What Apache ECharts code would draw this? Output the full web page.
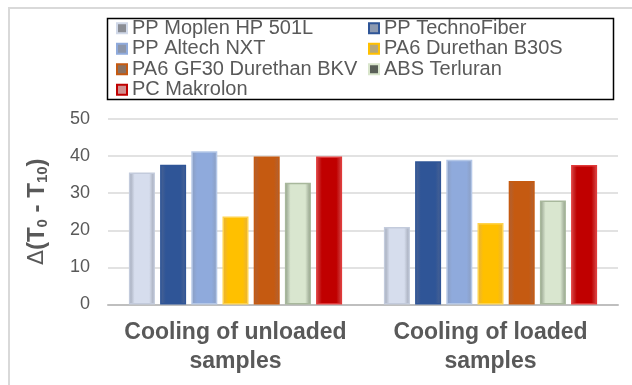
<!DOCTYPE html>
<html><head><meta charset="utf-8">
<script src="https://cdn.jsdelivr.net/npm/echarts@6/dist/echarts.min.js"></script>
<style>html,body{margin:0;padding:0;background:#fff}#c{width:632px;height:385px}</style>
</head><body><div id="c"></div>
<script>
const categories = ['Cooling of unloaded\nsamples', 'Cooling of loaded\nsamples'];
const seriesNames = ['PP Moplen HP 501L', 'PP TechnoFiber', 'PP Altech NXT', 'PA6 Durethan B30S', 'PA6 GF30 Durethan BKV', 'ABS Terluran', 'PC Makrolon'];
const moplen = [35.6, 20.9];
const technoFiber = [37.7, 38.6];
const altech = [41.3, 39.0];
const durethanB30S = [23.7, 22.0];
const durethanBKV = [39.9, 33.3];
const absTerluran = [32.8, 28.0];
const pcMakrolon = [39.9, 37.6];
const yTicks = [0, 10, 20, 30, 40, 50];

const values = [moplen, technoFiber, altech, durethanB30S, durethanBKV, absTerluran, pcMakrolon];
// [center, edge, border, legendFill, legendBorder]
const styles = [
  ['#d6dded', '#9aa1b0', '#c3cbdc', '#8a8d94', '#d0d8e8'],
  ['#2f5597', '#4b6392', '#2f5597', '#8c99b0', '#2f5597'],
  ['#8faadc', '#8b9dbf', '#b4c7e7', '#8c96aa', '#8faadc'],
  ['#ffc000', '#e6b143', '#ffd34d', '#b8a878', '#ffc000'],
  ['#c55a11', '#ad6239', '#c55a11', '#8a7060', '#c55a11'],
  ['#d9e6cf', '#8d9a85', '#a8b89c', '#5a6058', '#d9e5cc'],
  ['#c00000', '#d14a4a', '#e03a3a', '#d09090', '#c00000']
];
function grad(c, e) {
  return new echarts.graphic.LinearGradient(0, 0, 1, 0, [
    {offset: 0, color: e}, {offset: 0.22, color: c}, {offset: 0.78, color: c}, {offset: 1, color: e}
  ]);
}
const series = seriesNames.map((n, i) => ({
  name: n, type: 'bar', data: values[i], barWidth: 26, barGap: '20%',
  itemStyle: {color: grad(styles[i][0], styles[i][1]), borderColor: styles[i][2], borderWidth: 1.5}
}));
const legendItem = i => ({name: seriesNames[i], itemStyle: {color: styles[i][3], borderColor: styles[i][4], borderWidth: 2}});
const legendText = {fontFamily: 'Liberation Sans, Arial', fontSize: 20, color: '#595959', lineHeight: 20.5};

const chart = echarts.init(document.getElementById('c'), null, {renderer: 'canvas'});
chart.setOption({
  animation: false,
  backgroundColor: '#fff',
  graphic: [
    {type: 'rect', shape: {x: 9, y: 8, width: 640, height: 400}, style: {fill: 'none', stroke: '#d9d9d9', lineWidth: 2}, z: -1},
    {type: 'rect', shape: {x: 107.5, y: 18.5, width: 506, height: 81}, style: {fill: 'none', stroke: '#000', lineWidth: 1.5}}
  ],
  legend: [
    {orient: 'vertical', left: 116, top: 18, padding: 0, itemGap: 0, itemWidth: 10, itemHeight: 10, icon: 'rect',
     data: [0, 2, 4, 6].map(legendItem), textStyle: legendText},
    {orient: 'vertical', left: 368, top: 18, padding: 0, itemGap: 0, itemWidth: 10, itemHeight: 10, icon: 'rect',
     data: [1, 3, 5].map(legendItem), textStyle: legendText}
  ],
  grid: {left: 108, right: 14, top: 119, bottom: 80.5, containLabel: false},
  xAxis: {
    type: 'category', data: categories,
    axisLine: {lineStyle: {color: '#bfbfbf', width: 2}},
    axisTick: {show: false},
    axisLabel: {interval: 0, hideOverlap: false, fontFamily: 'Liberation Sans, Arial', fontWeight: 'bold', fontSize: 23, lineHeight: 29, color: '#595959', margin: 14}
  },
  yAxis: {
    type: 'value', min: yTicks[0], max: yTicks[yTicks.length - 1], interval: 10,
    axisLine: {show: false}, axisTick: {show: false},
    splitLine: {lineStyle: {color: '#d9d9d9', width: 1.5}},
    axisLabel: {fontFamily: 'Liberation Sans, Arial', fontSize: 18, color: '#595959', margin: 18},
    name: '{d|Δ}{a|(T}{s|0}{a| - T}{s|10}{a|)}',
    nameLocation: 'middle', nameGap: 58, nameRotate: 90,
    nameTextStyle: {
      rich: {
        d: {fontFamily: 'DejaVu Sans', fontSize: 22, color: '#595959'},
        a: {fontFamily: 'Liberation Sans, Arial', fontWeight: 'bold', fontSize: 24, color: '#595959'},
        s: {fontFamily: 'Liberation Sans, Arial', fontWeight: 'bold', fontSize: 15, color: '#595959', padding: [10, 0, 0, 0]}
      }
    }
  },
  series: series
});
</script></body></html>
